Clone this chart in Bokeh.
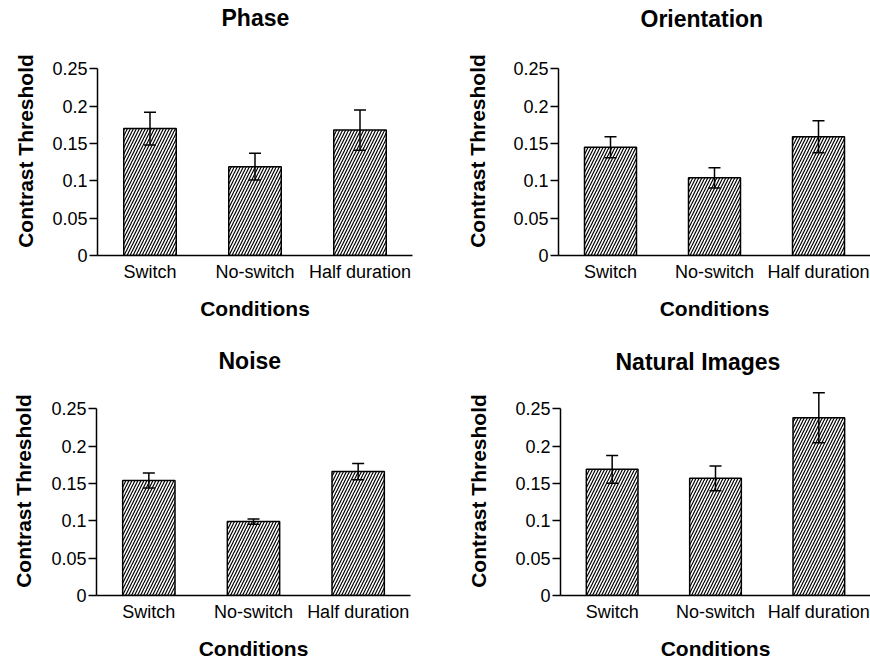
from bokeh.plotting import figure
from bokeh.models import (ColumnDataSource, FactorRange, Range1d, FixedTicker,
                          CustomJSTickFormatter, Whisker, TeeHead, Title)
from bokeh.layouts import column, row
from bokeh.embed import file_html
from bokeh.resources import INLINE

# ---- data ----
categories = ["Switch", "No-switch", "Half duration"]

phase_mean = [0.170, 0.119, 0.168]
phase_err = [0.022, 0.018, 0.027]

orient_mean = [0.145, 0.104, 0.159]
orient_err = [0.014, 0.0135, 0.0215]

noise_mean = [0.154, 0.099, 0.166]
noise_err = [0.010, 0.0035, 0.011]

natural_mean = [0.169, 0.157, 0.238]
natural_err = [0.0185, 0.0165, 0.0335]

y_ticks = [0, 0.05, 0.1, 0.15, 0.2, 0.25]
y_axis_max = 0.25
y_view_max = 0.28

FONT = "Liberation Sans"


def make_panel(title, means, errs, width, height, bl, br, bt, bb,
               gap_k, title_offset, ylab_standoff, xlab_standoff):
    src = ColumnDataSource(dict(
        cat=categories,
        mean=means,
        upper=[m + e for m, e in zip(means, errs)],
        lower=[m - e for m, e in zip(means, errs)],
    ))
    p = figure(x_range=FactorRange(factors=categories, range_padding=0),
               y_range=Range1d(0, y_view_max),
               width=width, height=height, title=None,
               min_border_left=bl, min_border_right=br,
               min_border_top=bt, min_border_bottom=bb,
               output_backend="svg", toolbar_location=None)
    p.vbar(x="cat", top="mean", width=0.5, source=src,
           fill_color="white", line_color="black", line_width=1.5,
           hatch_pattern="/", hatch_color="black", hatch_scale=6,
           hatch_weight=1.2)
    w = Whisker(base="cat", upper="upper", lower="lower", source=src,
                line_color="black", line_width=1.5, level="overlay",
                upper_head=TeeHead(size=12, line_color="black", line_width=1.5),
                lower_head=TeeHead(size=12, line_color="black", line_width=1.5))
    p.add_layout(w)

    # blank spacer between frame and title, then the title itself (outermost)
    p.add_layout(Title(text=" ", text_font_size="2px", text_color="white",
                       standoff=gap_k), "above")
    p.add_layout(Title(text=title, text_font=FONT, text_font_size="23px",
                       text_font_style="bold", text_color="black",
                       align="left", offset=title_offset, standoff=0,
                       vertical_align="bottom"), "above")

    p.background_fill_color = "white"
    p.border_fill_color = "white"
    p.outline_line_color = None
    p.xgrid.visible = False
    p.ygrid.visible = False

    ya = p.yaxis[0]
    ya.ticker = FixedTicker(ticks=y_ticks)
    ya.formatter = CustomJSTickFormatter(
        code="return tick.toFixed(2).replace(/0+$/, '').replace(/\\.$/, '');")
    ya.bounds = (0, y_axis_max)
    ya.axis_label = "Contrast Threshold"
    ya.axis_label_text_font = FONT
    ya.axis_label_text_font_size = "21px"
    ya.axis_label_text_font_style = "bold"
    ya.axis_label_text_color = "black"
    ya.axis_label_standoff = ylab_standoff
    ya.major_label_text_font = FONT
    ya.major_label_text_font_size = "18px"
    ya.major_label_text_color = "black"
    ya.major_tick_out = 8
    ya.major_tick_in = 0
    ya.major_label_standoff = 2
    ya.minor_tick_line_color = None
    ya.axis_line_width = 1.5
    ya.axis_line_color = "black"
    ya.major_tick_line_width = 1.5
    ya.major_tick_line_color = "black"

    xa = p.xaxis[0]
    xa.axis_label = "Conditions"
    xa.axis_label_text_font = FONT
    xa.axis_label_text_font_size = "21px"
    xa.axis_label_text_font_style = "bold"
    xa.axis_label_text_color = "black"
    xa.axis_label_standoff = xlab_standoff
    xa.major_label_text_font = FONT
    xa.major_label_text_font_size = "18px"
    xa.major_label_text_color = "black"
    xa.major_label_standoff = 6
    xa.major_tick_out = 0
    xa.major_tick_in = 0
    xa.major_tick_line_color = None
    xa.axis_line_width = 1.5
    xa.axis_line_color = "black"
    return p


p1 = make_panel("Phase", phase_mean, phase_err, 440, 331, 97, 28, 46, 76, 12, 124, 12, 12)
p2 = make_panel("Orientation", orient_mean, orient_err, 430, 331, 118, 0, 44, 76, 11, 82, 21, 12)
p3 = make_panel("Noise", noise_mean, noise_err, 440, 331, 96, 30, 55, 67, 9, 122, 13, 12)
p4 = make_panel("Natural Images", natural_mean, natural_err, 430, 331, 120, 0, 54, 67, 8, 55, 22, 12)

layout = column(row(p1, p2), row(p3, p4))

open("out.html", "w").write(file_html(layout, INLINE))
